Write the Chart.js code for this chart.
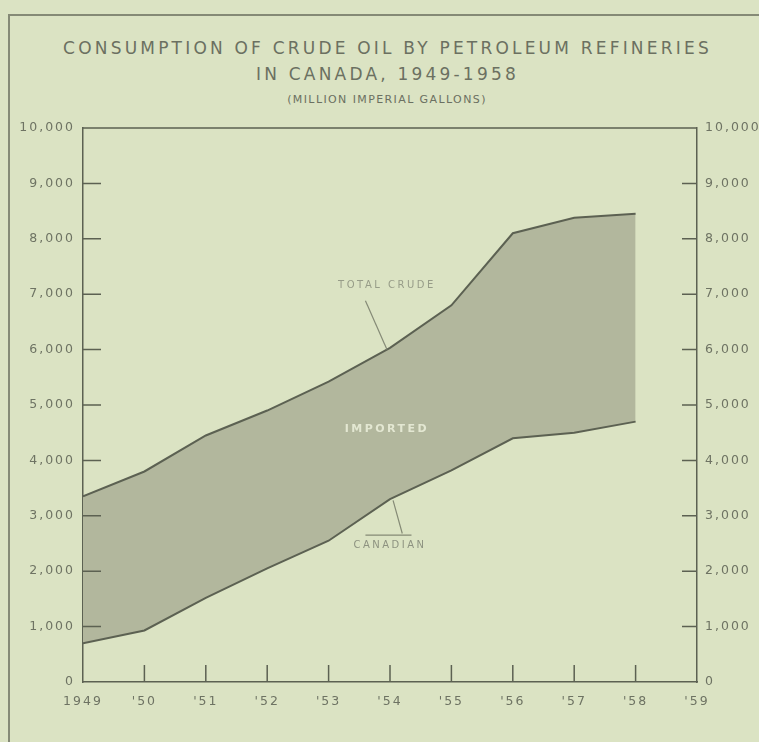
<!doctype html>
<html lang="en">
<head>
<meta charset="utf-8" />
<title>Consumption of Crude Oil by Petroleum Refineries in Canada, 1949-1958</title>
<script src="https://cdn.jsdelivr.net/npm/chart.js@4"></script>
<style>
  html, body { margin: 0; padding: 0; background: #dbe3c3; }
  body { width: 759px; height: 742px; position: relative; overflow: hidden; font-family: "DejaVu Sans", sans-serif; color: #6b7061; }
  .frame { position: absolute; left: 8px; top: 14px; right: -5px; bottom: -5px; border-left: 2px solid #858a76; border-top: 2px solid #858a76; }
  .t { position: absolute; left: 0; text-align: center; white-space: nowrap; }
  .t1 { top: 38px; width: 775px; font-size: 17px; line-height: 20px; letter-spacing: 3.2px; }
  .t2 { top: 64px; width: 775px; font-size: 17px; line-height: 20px; letter-spacing: 3.2px; }
  .t3 { top: 94px; width: 774px; font-size: 11px; line-height: 12px; letter-spacing: 1.4px; }
  #wrap { position: absolute; left: 0; top: 0; width: 759px; height: 742px; }
</style>
</head>
<body>
<div class="frame"></div>
<div class="t t1">CONSUMPTION OF CRUDE OIL BY PETROLEUM REFINERIES</div>
<div class="t t2">IN CANADA, 1949-1958</div>
<div class="t t3">(MILLION IMPERIAL GALLONS)</div>
<div id="wrap"><canvas id="chart"></canvas></div>
<script>
// values (million imperial gallons)
const years = [1949, 1950, 1951, 1952, 1953, 1954, 1955, 1956, 1957, 1958];
const totalCrude = [3350, 3800, 4450, 4900, 5420, 6030, 6800, 8100, 8380, 8450];
const canadian = [700, 930, 1520, 2050, 2550, 3300, 3820, 4400, 4500, 4700];

const xTickValues = [1949, 1950, 1951, 1952, 1953, 1954, 1955, 1956, 1957, 1958, 1959];
const xTickLabels = ["1949", "'50", "'51", "'52", "'53", "'54", "'55", "'56", "'57", "'58", "'59"];
const yTickValues = [0, 1000, 2000, 3000, 4000, 5000, 6000, 7000, 8000, 9000, 10000];

const ink = "#5c6152";
const textColor = "#6e7363";
const fillGrey = "#b2b79d";

const fmt = (v) => v.toLocaleString("en-US");

// ticks in the original point inward; draw them off the scales, plus the top edge of the box
const innerTicks = {
  id: "innerTicks",
  beforeDraw(chart) {
    chart.ctx.letterSpacing = "2px";
  },
  afterDatasetsDraw(chart) {
    const { ctx, chartArea: a, scales } = chart;
    ctx.save();
    ctx.strokeStyle = ink;
    ctx.lineWidth = 1.5;
    ctx.beginPath();
    ctx.moveTo(a.left, a.top);
    ctx.lineTo(a.right, a.top);
    for (const v of xTickValues.slice(1, -1)) {
      const px = scales.x.getPixelForValue(v);
      ctx.moveTo(px, a.bottom);
      ctx.lineTo(px, a.bottom - 17);
    }
    for (const v of yTickValues.slice(1, -1)) {
      const py = scales.y.getPixelForValue(v);
      ctx.moveTo(a.left, py);
      ctx.lineTo(a.left + 18, py);
      ctx.moveTo(a.right - 15, py);
      ctx.lineTo(a.right, py);
    }
    ctx.stroke();
    ctx.restore();
  },
};

// the three hand-lettered callouts
const callouts = {
  id: "callouts",
  afterDatasetsDraw(chart) {
    const { ctx, scales: { x, y } } = chart;
    ctx.save();
    ctx.textAlign = "center";
    ctx.textBaseline = "middle";

    ctx.letterSpacing = "2.5px";
    ctx.font = "10px 'DejaVu Sans'";
    ctx.fillStyle = "#979c88";
    ctx.fillText("TOTAL CRUDE", x.getPixelForValue(1953.95), y.getPixelForValue(7150));
    ctx.strokeStyle = "#858a76";
    ctx.lineWidth = 1.2;
    ctx.beginPath();
    ctx.moveTo(x.getPixelForValue(1953.6), y.getPixelForValue(6880));
    ctx.lineTo(x.getPixelForValue(1953.95), y.getPixelForValue(6000));
    ctx.stroke();

    ctx.font = "bold 11px 'DejaVu Sans'";
    ctx.fillStyle = "#e3e7d2";
    ctx.fillText("IMPORTED", x.getPixelForValue(1953.95), y.getPixelForValue(4570));

    ctx.font = "10px 'DejaVu Sans'";
    ctx.fillStyle = "#8d9280";
    ctx.fillText("CANADIAN", x.getPixelForValue(1954.0), y.getPixelForValue(2460));
    ctx.beginPath();
    ctx.moveTo(x.getPixelForValue(1953.6), y.getPixelForValue(2650));
    ctx.lineTo(x.getPixelForValue(1954.35), y.getPixelForValue(2650));
    ctx.moveTo(x.getPixelForValue(1954.2), y.getPixelForValue(2680));
    ctx.lineTo(x.getPixelForValue(1954.05), y.getPixelForValue(3280));
    ctx.stroke();
    ctx.restore();
  },
};

const yAxis = (position, width, padding) => ({
  type: "linear",
  position,
  min: 0,
  max: 10000,
  afterBuildTicks: (s) => { s.ticks = yTickValues.map((v) => ({ value: v })); },
  afterFit: (s) => { s.width = width; },
  grid: { display: false, drawTicks: false },
  border: { display: true, color: ink, width: 1.5 },
  ticks: {
    padding,
    color: textColor,
    font: { family: "DejaVu Sans", size: 12.5 },
    callback: (v) => fmt(v),
  },
});

new Chart(document.getElementById("chart"), {
  type: "line",
  data: {
    datasets: [
      {
        label: "Canadian",
        data: years.map((yr, i) => ({ x: yr, y: canadian[i] })),
        borderColor: ink,
        borderWidth: 2,
        pointRadius: 0,
        fill: false,
        tension: 0,
      },
      {
        label: "Total crude",
        data: years.map((yr, i) => ({ x: yr, y: totalCrude[i] })),
        borderColor: ink,
        borderWidth: 2,
        backgroundColor: fillGrey,
        pointRadius: 0,
        fill: "-1",
        tension: 0,
      },
    ],
  },
  options: {
    responsive: true,
    maintainAspectRatio: false,
    animation: false,
    layout: { padding: { top: 128, left: 0, right: 0, bottom: 0 } },
    plugins: { legend: { display: false }, tooltip: { enabled: false } },
    scales: {
      x: {
        type: "linear",
        min: 1949,
        max: 1959,
        afterBuildTicks: (s) => { s.ticks = xTickValues.map((v) => ({ value: v })); },
        afterFit: (s) => { s.height = 60; },
        grid: { display: false, drawTicks: false },
        border: { display: true, color: ink, width: 1.5 },
        ticks: {
          padding: 12,
          color: textColor,
          font: { family: "DejaVu Sans", size: 12.5 },
          maxRotation: 0,
          autoSkip: false,
          callback: (v, i) => xTickLabels[i],
        },
      },
      y: yAxis("left", 83, 8),
      y2: yAxis("right", 62, 8),
    },
  },
  plugins: [innerTicks, callouts],
});
</script>
</body>
</html>
